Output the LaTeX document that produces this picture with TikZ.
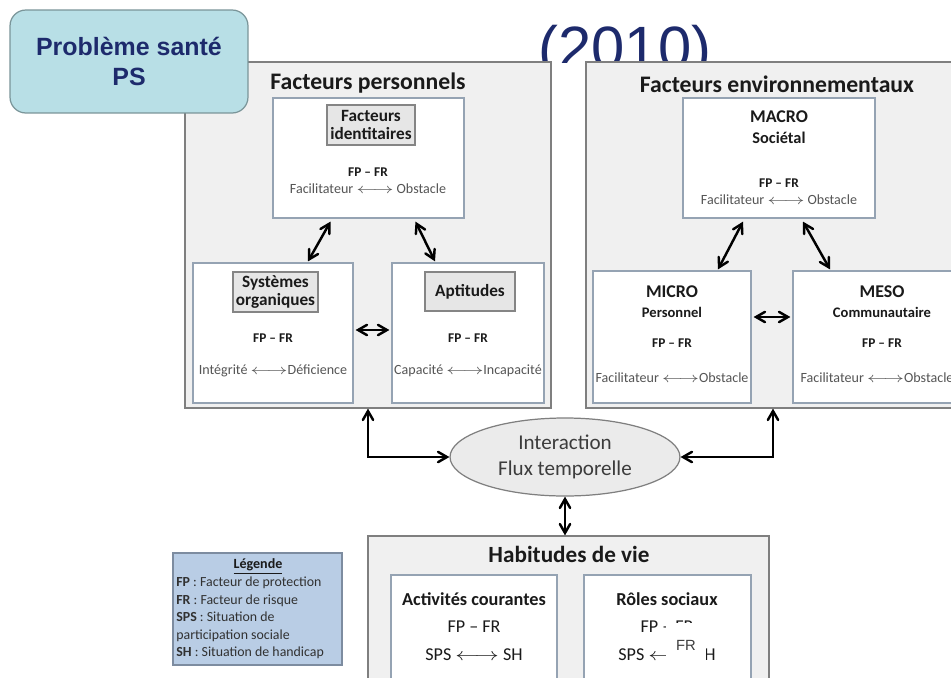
\documentclass[tikz,border=0pt]{standalone}
\usepackage{fontspec}
\setmainfont{Carlito}
\newfontfamily\arialfont{Liberation Sans}
\usepackage{xcolor}
\usepackage{graphicx}
\usetikzlibrary{arrows}
\usetikzlibrary{calc}
\usetikzlibrary{fit}
\usetikzlibrary{shapes.geometric}

\definecolor{psfill}{HTML}{B8DFE6}
\definecolor{psline}{HTML}{7A9599}
\definecolor{navy}{HTML}{1D2A6C}
\definecolor{panelfill}{HTML}{F0F0F0}
\definecolor{panelline}{HTML}{7F7F7F}
\definecolor{inline}{HTML}{95A3B3}
\definecolor{tagfill}{HTML}{E6E6E6}
\definecolor{tagline}{HTML}{858585}
\definecolor{legfill}{HTML}{B9CDE5}
\definecolor{legline}{HTML}{7D8CA0}
\definecolor{darktext}{HTML}{1A1A1A}
\definecolor{graytext}{HTML}{555555}

% long thin double arrow used inside the texts
\newcommand{\lra}{\scalebox{1.35}[1]{$\longleftrightarrow$}}

\begin{document}
\begin{tikzpicture}[x=0.02cm, y=-0.02cm,
  panel/.style={draw=panelline, fill=panelfill, line width=0.7pt, inner sep=0pt},
  inbox/.style={draw=inline, fill=white, line width=0.7pt, inner sep=0pt},
  tagbox/.style={draw=tagline, fill=tagfill, line width=0.7pt, inner sep=0pt},
  tagtxt/.style={align=center, inner sep=0pt, text=darktext, font=\fontsize{9.8}{11}\selectfont\bfseries},
  ttl/.style={text=darktext, font=\fontsize{13.5}{16}\selectfont\bfseries},
  fpfr/.style={text=darktext, font=\fontsize{7.6}{9}\selectfont\bfseries},
  pair/.style={text=graytext, font=\fontsize{8}{9}\selectfont},
  level/.style={text=darktext, font=\fontsize{10.2}{12}\selectfont\bfseries},
  sublevel/.style={text=darktext, font=\fontsize{8.3}{10}\selectfont\bfseries},
  habtxt/.style={text=darktext, font=\fontsize{10.3}{12}\selectfont},
  dblarrow/.style={<->, >=angle 60, line width=1.4pt, black},
]

\useasboundingbox (0,0) rectangle (951,677);
\fill[white] (0,0) rectangle (951,677);
\clip (0,0) rectangle (951,677);

% title year, cut off by the panels
\begin{scope}
\clip (480,0) rectangle (760,62);
\node[anchor=base, text=navy, font=\arialfont\fontsize{34}{40}\selectfont] (year) at (625,68) {(2010)};
\end{scope}

% Facteurs personnels
\node[panel, fit={(185,62) (551,408)}] (persbox) {};
\node[ttl] (perstitle) at (368,83) {Facteurs personnels};

\node[inbox, fit={(273,98) (464,218)}] (ident) {};
\node[tagbox, fit={(327,105) (415,145)}] (identtag) {};
\node[tagtxt] (identname) at (identtag) {Facteurs\\[-0.5pt]identitaires};
\node[fpfr] (identfp) at (368,172) {FP -- FR};
\node[pair] (identpair) at (368,189) {Facilitateur \lra{} Obstacle};

\node[inbox, fit={(193,263) (353,403)}] (sys) {};
\node[tagbox, fit={(233,272) (318,312)}] (systag) {};
\node[tagtxt] (sysname) at (systag) {Systèmes\\[-0.5pt]organiques};
\node[fpfr] (sysfp) at (273,338) {FP -- FR};
\node[pair] (syspair) at (273,371) {Intégrité \lra{}Déficience};

\node[inbox, fit={(392,263) (544,403)}] (apt) {};
\node[tagbox, fit={(425,272) (515,311)}] (apttag) {};
\node[tagtxt] (aptname) at (apttag) {Aptitudes};
\node[fpfr] (aptfp) at (468,338) {FP -- FR};
\node[pair] (aptpair) at (468,371) {Capacité \lra{}Incapacité};

\draw[dblarrow] ($(ident.south)+(-38,3)$) -- ($(sys.north)+(35,-1)$);
\draw[dblarrow] ($(ident.south)+(47,3)$) -- ($(apt.north)+(-33,-1)$);
\draw[dblarrow] ($(sys.east)+(2,-3)$) -- ($(apt.west)+(-2,-3)$);

% Facteurs environnementaux
\node[panel, fit={(586,62) (960,408)}] (envbox) {};
\node[ttl] (envtitle) at (777,84) {Facteurs environnementaux};

\node[inbox, fit={(683,98) (875,218)}] (macro) {};
\node[level] (macrotxt) at (779,117) {MACRO};
\node[sublevel, font=\fontsize{9.3}{11}\selectfont\bfseries] (macrosub) at (779,138) {Sociétal};
\node[fpfr] (macrofp) at (779,183) {FP -- FR};
\node[pair] (macropair) at (779,200) {Facilitateur \lra{} Obstacle};

\node[inbox, fit={(593,271) (751,403)}] (micro) {};
\node[level] (microtxt) at (672,292) {MICRO};
\node[sublevel] (microsub) at (672,312) {Personnel};
\node[fpfr] (microfp) at (672,343) {FP -- FR};
\node[pair] (micropair) at (672,378) {Facilitateur \lra{}Obstacle};

\node[inbox, fit={(793,271) (965,403)}] (meso) {};
\node[level] (mesotxt) at (882,292) {MESO};
\node[sublevel] (mesosub) at (882,312) {Communautaire};
\node[fpfr] (mesofp) at (882,343) {FP -- FR};
\node[pair] (mesopair) at (877,378) {Facilitateur \lra{}Obstacle};

\draw[dblarrow] ($(macro.south)+(-36,3)$) -- ($(micro.north)+(46,-1)$);
\draw[dblarrow] ($(macro.south)+(24,3)$) -- ($(meso.north)+(-49,-1)$);
\draw[dblarrow] ($(micro.east)+(2,-20)$) -- ($(meso.west)+(-2,-20)$);

% Probleme sante (over the corner of the left panel)
\node[draw=psline, fill=psfill, rounded corners=9pt, line width=0.7pt, minimum width=4.76cm,
  minimum height=2.06cm, align=center, text=navy,
  font=\arialfont\fontsize{14.2}{17}\selectfont\bfseries] (ps) at (129,61.5) {Problème santé\\PS};

% interaction
\node[ellipse, draw=panelline, fill=tagfill!80!white, line width=0.7pt, minimum width=4.6cm,
  minimum height=1.3cm, align=center, text=darktext!85!white,
  font=\fontsize{12}{14.5}\selectfont] (inter) at (565,457) {Interaction\\Flux temporelle};

% Habitudes de vie
\node[panel, fit={(368,536) (769,700)}] (habit) {};
\node[ttl, font=\fontsize{13.2}{15}\selectfont\bfseries] (habtitle) at (569,554) {Habitudes de vie};

\node[inbox, fit={(391,575) (557,700)}] (act) {};
\node[ttl, font=\fontsize{10.4}{12}\selectfont\bfseries] (acttxt) at (474,599) {Activités courantes};
\node[habtxt] (actfp) at (474,627) {FP -- FR};
\node[habtxt] (actpair) at (474,655) {SPS \lra{} SH};

\node[inbox, fit={(584,575) (751,700)}] (role) {};
\node[ttl, font=\fontsize{10.4}{12}\selectfont\bfseries] (roletxt) at (667,599) {Rôles sociaux};
\node[habtxt] (rolefp) at (667,627) {FP -- FR};
\node[habtxt] (rolepair) at (667,655) {SPS \lra{} SH};
\node[fill=white, inner sep=0pt, minimum width=0.8cm, minimum height=0.78cm] (frpatch) at (686,642.5) {};
\node[text=darktext!85!white, font=\arialfont\fontsize{8.4}{10}\selectfont] (frtxt) at (686,645.5) {FR};

\draw[dblarrow] (persbox.south) |- (inter.west);
\draw[dblarrow] (envbox.south) |- (inter.east);
\draw[dblarrow] (inter.south) -- (inter.south |- habit.north);

% Legende
\node[draw=legline, fill=legfill, line width=0.7pt, inner sep=0pt, fit={(173,553) (342,665)}] (leg) {};
\node[text=darktext, font=\fontsize{8}{9}\selectfont\bfseries] (legtitle) at (258,567) {\underline{Légende}};
\node[anchor=north west, align=left, inner sep=0pt, text=darktext!90!white,
  font=\fontsize{7.9}{9.9}\selectfont] (legtxt) at (176,577)
  {\textbf{FP} : Facteur de protection\\
   \textbf{FR} : Facteur de risque\\
   \textbf{SPS} : Situation de\\
   participation sociale\\
   \textbf{SH} : Situation de handicap};

\end{tikzpicture}
\end{document}
